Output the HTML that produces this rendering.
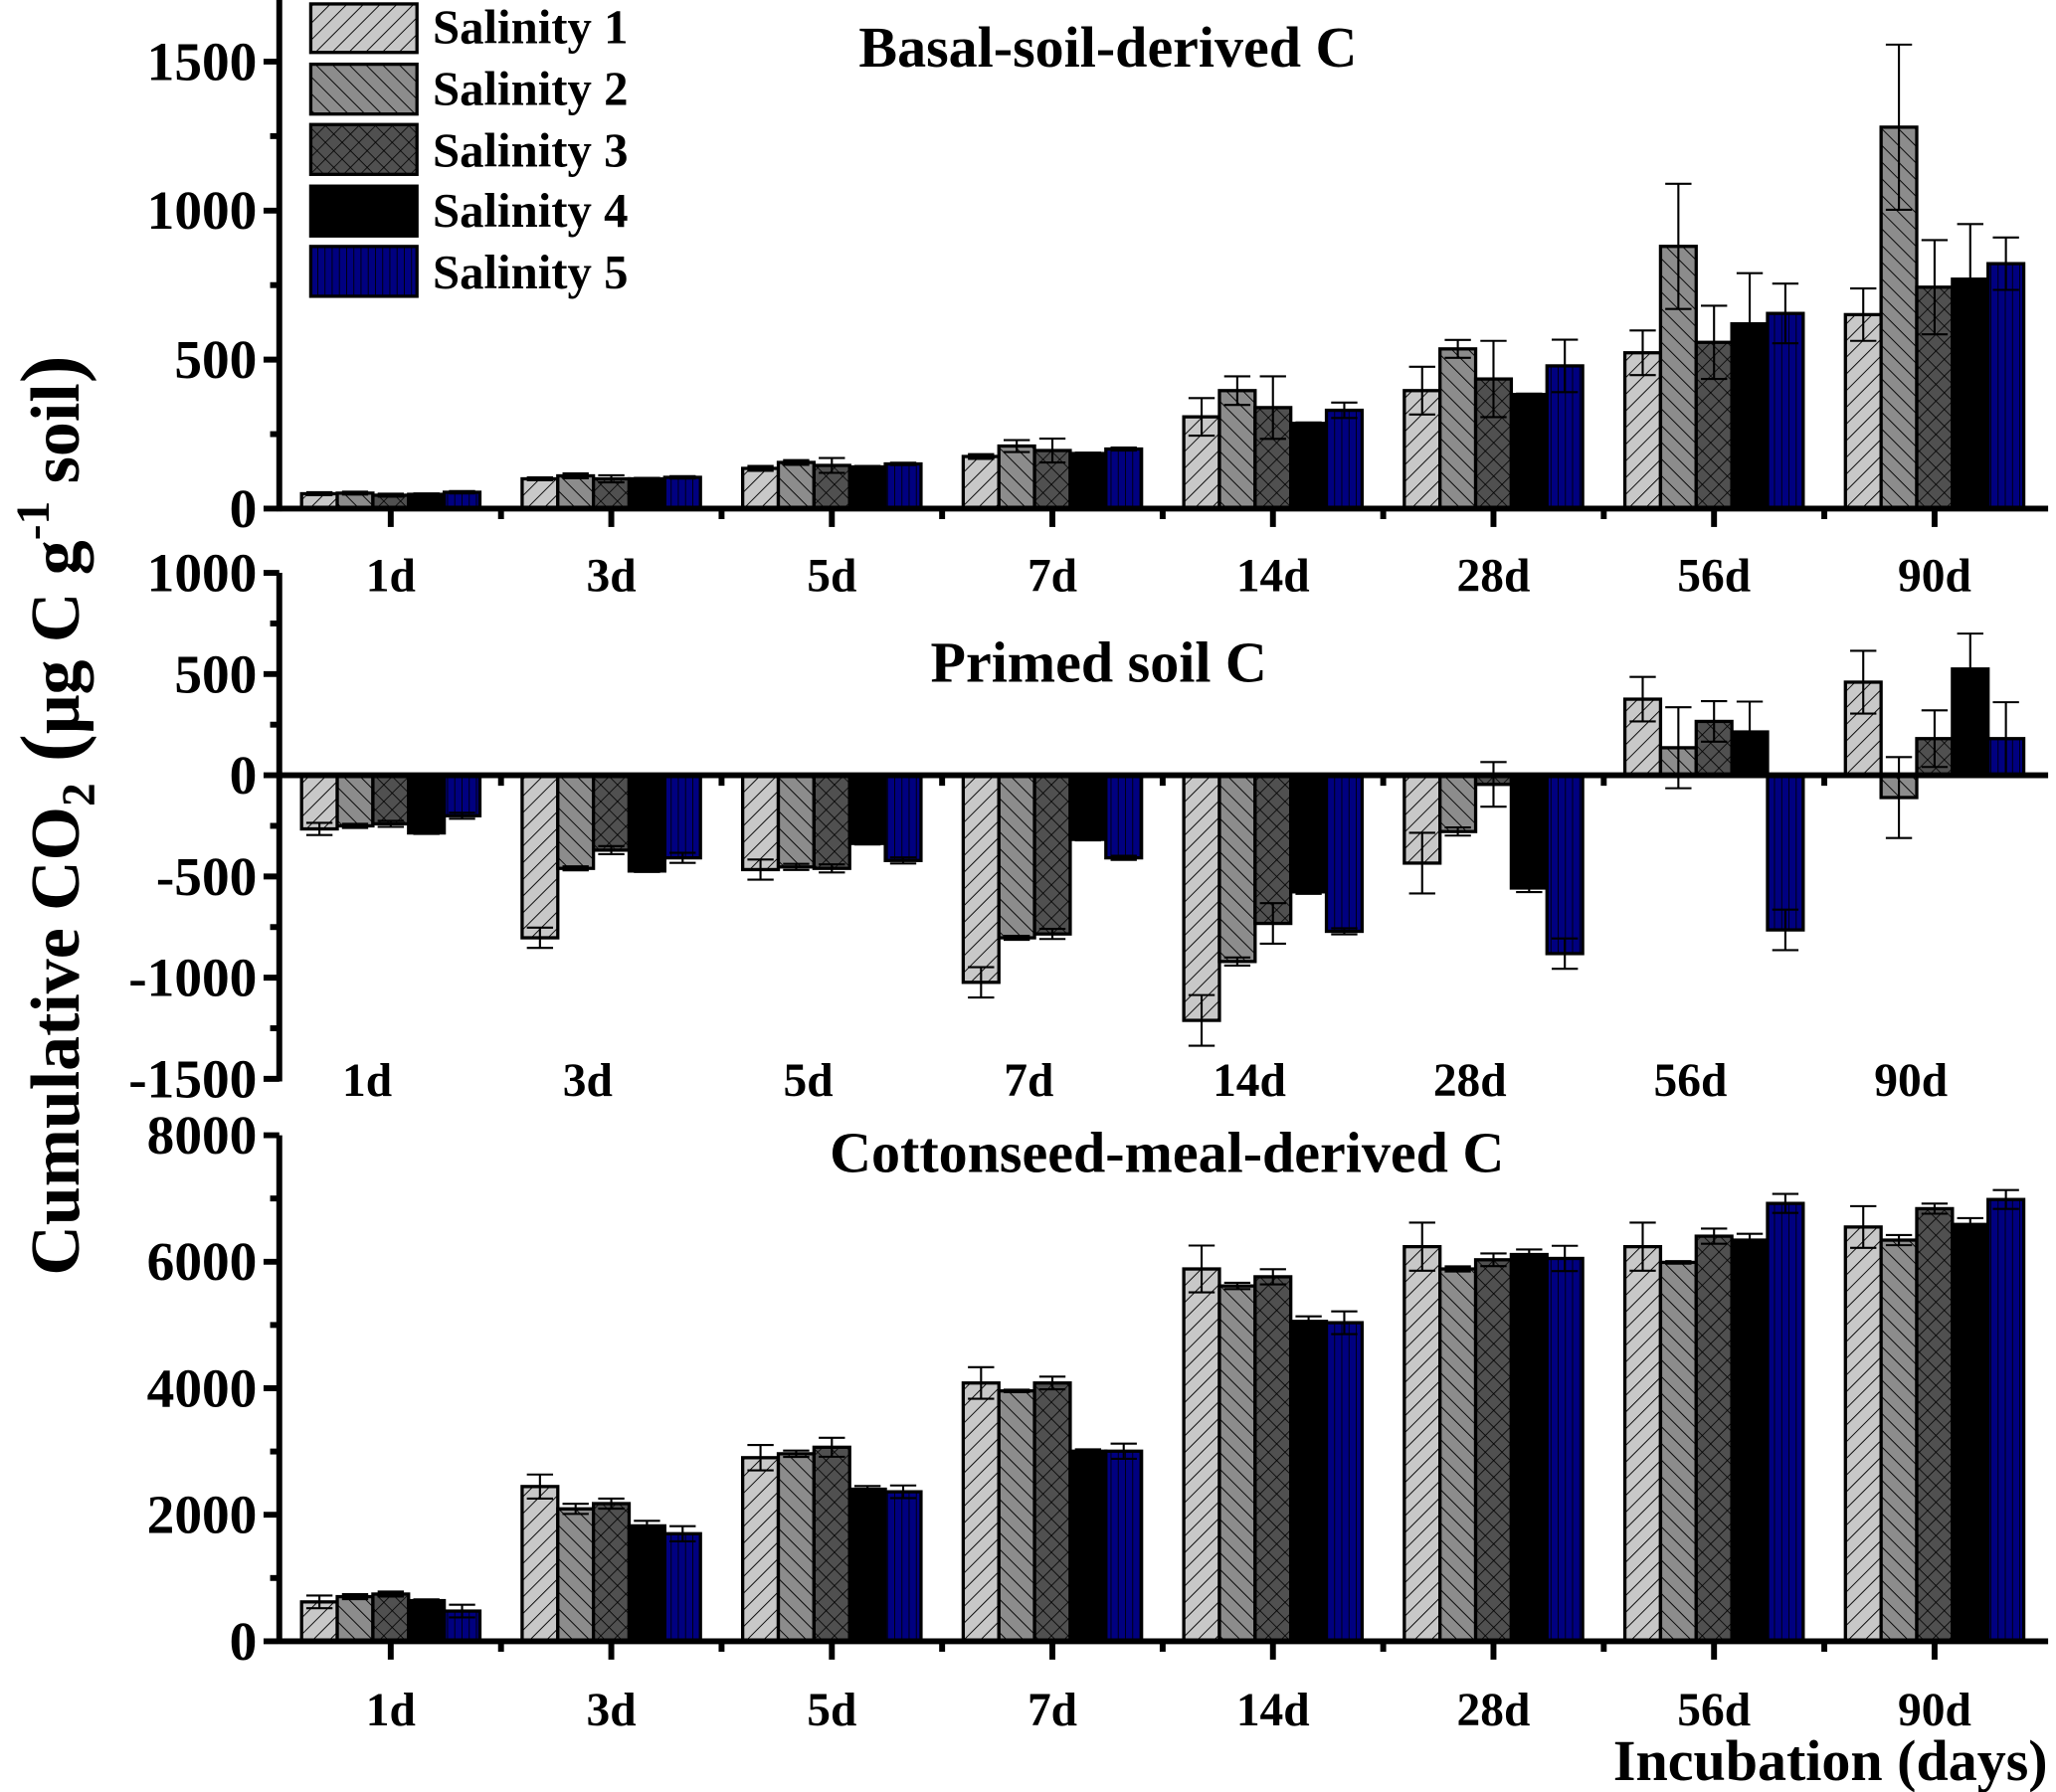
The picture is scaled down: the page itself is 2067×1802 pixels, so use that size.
<!DOCTYPE html>
<html><head><meta charset="utf-8"><style>
html,body{margin:0;padding:0;background:#fff;}
svg{display:block;}
text{font-family:"Liberation Serif",serif;font-weight:bold;fill:#000;}
</style></head><body>
<svg id="chart" width="2067" height="1802" viewBox="0 0 1568 1367" preserveAspectRatio="none" xmlns="http://www.w3.org/2000/svg">
<defs>
<pattern id="p1" patternUnits="userSpaceOnUse" width="9" height="9" patternTransform="rotate(45)"><rect width="9" height="9" fill="#c8c8c8"/><line x1="0" y1="0" x2="0" y2="9" stroke="#000" stroke-width="1.4"/></pattern>
<pattern id="p2" patternUnits="userSpaceOnUse" width="9" height="9" patternTransform="rotate(-45)"><rect width="9" height="9" fill="#8c8c8c"/><line x1="0" y1="0" x2="0" y2="9" stroke="#000" stroke-width="1.4"/></pattern>
<pattern id="p3" patternUnits="userSpaceOnUse" width="9" height="9" patternTransform="rotate(45)"><rect width="9" height="9" fill="#505050"/><line x1="0" y1="0" x2="0" y2="9" stroke="#000" stroke-width="1.2"/><line x1="0" y1="0" x2="9" y2="0" stroke="#000" stroke-width="1.2"/></pattern>
<pattern id="p5" patternUnits="userSpaceOnUse" width="5.5" height="10"><rect width="5.5" height="10" fill="#000080"/><line x1="0" y1="0" x2="0" y2="10" stroke="#000" stroke-width="1.3"/></pattern>
</defs>
<g id="plots"></g>
<g>
<rect x="237" y="3" width="81" height="37" fill="url(#p1)" stroke="#000" stroke-width="2.5"/>
<text x="330" y="33" font-size="37">Salinity 1</text>
<rect x="237" y="49" width="81" height="38" fill="url(#p2)" stroke="#000" stroke-width="2.5"/>
<text x="330" y="80" font-size="37">Salinity 2</text>
<rect x="237" y="95" width="81" height="38" fill="url(#p3)" stroke="#000" stroke-width="2.5"/>
<text x="330" y="127" font-size="37">Salinity 3</text>
<rect x="237" y="142" width="81" height="38" fill="#000" stroke="#000" stroke-width="2.5"/>
<text x="330" y="173" font-size="37">Salinity 4</text>
<rect x="237" y="188" width="81" height="38" fill="url(#p5)" stroke="#000" stroke-width="2.5"/>
<text x="330" y="220" font-size="37">Salinity 5</text>
</g>
<text x="845" y="51" font-size="44" text-anchor="middle">Basal-soil-derived C</text>
<text x="838" y="520" font-size="44" text-anchor="middle">Primed soil C</text>
<text x="890" y="894" font-size="44" text-anchor="middle">Cottonseed-meal-derived C</text>
<text x="1396" y="1358" font-size="44" text-anchor="middle">Incubation (days)</text>
<text transform="translate(60,622) rotate(-90)" font-size="53" text-anchor="middle">Cumulative CO<tspan font-size="36" dy="12">2</tspan><tspan dy="-12" font-size="64"> (</tspan>μg C g<tspan font-size="36" dy="-23">-1</tspan><tspan dy="23"> soil</tspan><tspan font-size="64">)</tspan></text>
</svg>
<script>
const categories = ["1d","3d","5d","7d","14d","28d","56d","90d"];
const basalS1 = [50,100,135,175,308,396,523,651];
const basalS2 = [52,110,155,210,396,536,880,1280];
const basalS3 = [45,100,145,195,339,435,558,743];
const basalS4 = [48,100,140,185,286,383,620,770];
const basalS5 = [55,105,150,200,330,479,655,822];
const basalE1 = [5,5,8,8,63,80,75,88];
const basalE2 = [5,8,8,20,48,30,210,277];
const basalE3 = [5,12,25,40,105,128,123,158];
const basalE4 = [3,3,3,3,3,3,170,185];
const basalE5 = [4,4,4,5,26,88,100,88];
const primedS1 = [-265,-803,-466,-1023,-1211,-434,376,460];
const primedS2 = [-250,-460,-453,-803,-920,-278,136,-110];
const primedS3 = [-240,-370,-460,-784,-732,-45,266,181];
const primedS4 = [-285,-473,-337,-317,-576,-557,214,525];
const primedS5 = [-200,-408,-421,-408,-771,-881,-764,181];
const primedE1 = [30,50,50,75,125,150,110,155];
const primedE2 = [10,10,15,10,20,20,200,200];
const primedE3 = [15,20,20,25,100,110,100,140];
const primedE4 = [5,5,5,5,10,20,150,175];
const primedE5 = [15,25,15,10,15,75,100,180];
const cottonS1 = [622,2446,2902,4083,5886,6238,6238,6549];
const cottonS2 = [705,2093,2964,3958,5617,5886,5990,6342];
const cottonS3 = [746,2176,3067,4083,5762,6031,6404,6839];
const cottonS4 = [642,1824,2404,3005,5057,6114,6342,6590];
const cottonS5 = [477,1700,2363,3005,5036,6052,6922,6984];
const cottonE1 = [100,190,200,250,370,380,380,330];
const cottonE2 = [40,80,50,20,50,40,20,80];
const cottonE3 = [40,80,150,100,120,100,120,80];
const cottonE4 = [20,80,50,30,80,80,100,100];
const cottonE5 = [100,120,100,120,180,200,150,150];
const basalTicks = [0,500,1000,1500];
const primedTicks = [1000,500,0,-500,-1000,-1500];
const cottonTicks = [0,2000,4000,6000,8000];

const NS="http://www.w3.org/2000/svg";
const g=document.getElementById('plots');
function mk(tag,attrs,parent){const e=document.createElementNS(NS,tag);for(const k in attrs)e.setAttribute(k,attrs[k]);(parent||g).appendChild(e);return e;}
const fills=["url(#p1)","url(#p2)","url(#p3)","#000","url(#p5)"];
const X0=213, XR=1562, step=168.2, firstC=298, bw=27.2;
function xC(i){return firstC+i*step;}

function panel(name,vals,errs,ticks,vMin,vMax,yTop,yBot,labY,labShift,minorStep){
  const pg=mk('g',{});
  
  
  const y=v=>yBot-(v-vMin)/(vMax-vMin)*(yBot-yTop);
  const y0=y(0);
  for(let i=0;i<categories.length;i++){
    for(let s=0;s<5;s++){
      const v=vals[s][i], e=errs[s][i];
      const x=xC(i)-2.5*bw+s*bw;
      const r=mk('rect',{x:x,y:Math.min(y(v),y0),width:bw,height:Math.abs(y(v)-y0),fill:fills[s],stroke:'#000','stroke-width':2.5},pg);
      
      
      const cx=x+bw/2, yt=y(v+e), yb=y(v-e);
      const eb=mk('path',{d:`M${cx},${yt}V${yb}M${cx-10},${yt}H${cx+10}M${cx-10},${yb}H${cx+10}`,stroke:'#000','stroke-width':1.6,fill:'none'},pg);
      
      
    }
  }
  const ya=mk('line',{x1:X0,y1:yTop,x2:X0,y2:yBot+2,stroke:'#000','stroke-width':4.5},pg);
  
  
  for(let v=vMin; v<=vMax+1e-6; v+=minorStep){
    const isMaj=ticks.indexOf(Math.round(v))>=0;
    mk('line',{x1:X0-(isMaj?12:7),y1:y(v),x2:X0,y2:y(v),stroke:'#000','stroke-width':4.5},pg);
  }
  ticks.forEach(t=>{
    const tl=mk('text',{x:X0-17,y:y(t)+14,'font-size':42,'text-anchor':'end'},pg);
    tl.textContent=t;
    
    
  });
  const xa=mk('line',{x1:X0,y1:y0,x2:XR,y2:y0,stroke:'#000','stroke-width':4.5},pg);
  
  
  for(let i=0;i<categories.length;i++){
    if(name!=='primed') mk('line',{x1:xC(i),y1:y0,x2:xC(i),y2:y0+14,stroke:'#000','stroke-width':4.5},pg);
    if(i>0) mk('line',{x1:xC(i)-step/2,y1:y0,x2:xC(i)-step/2,y2:y0+8,stroke:'#000','stroke-width':4.5},pg);
    const cl=mk('text',{x:xC(i)+labShift,y:labY,'font-size':36,'text-anchor':'middle'},pg);
    cl.textContent=categories[i];
    
    
  }
}
panel('basal',[basalS1,basalS2,basalS3,basalS4,basalS5],[basalE1,basalE2,basalE3,basalE4,basalE5],basalTicks,0,1500,47,388,451,0,250);
mk('line',{x1:213,y1:0,x2:213,y2:47,stroke:'#000','stroke-width':4.5});
panel('primed',[primedS1,primedS2,primedS3,primedS4,primedS5],[primedE1,primedE2,primedE3,primedE4,primedE5],primedTicks,-1500,1000,437,823,836,-18,250);
panel('cotton',[cottonS1,cottonS2,cottonS3,cottonS4,cottonS5],[cottonE1,cottonE2,cottonE3,cottonE4,cottonE5],cottonTicks,0,8000,866,1252,1316,0,1000);
</script>
</body></html>
